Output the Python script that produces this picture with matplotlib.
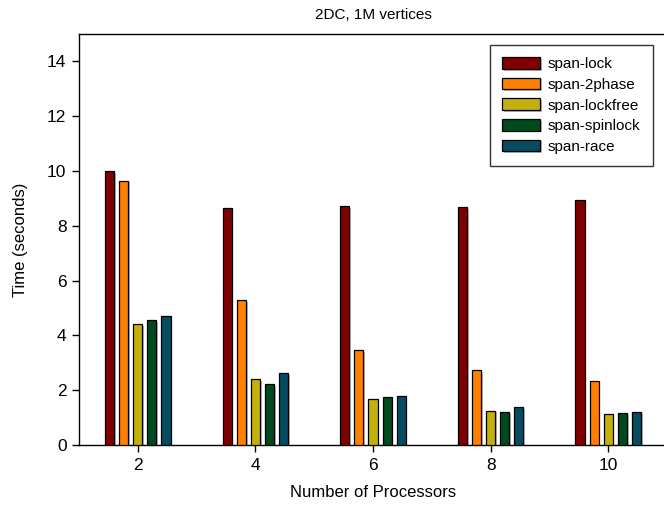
import numpy as np
import matplotlib.pyplot as plt
import matplotlib.patheffects as pe

plt.rcParams['font.family'] = ['Liberation Sans', 'DejaVu Sans']

procs = [2, 4, 6, 8, 10]
series = ['span-lock', 'span-2phase', 'span-lockfree', 'span-spinlock', 'span-race']
span_lock = [10.0, 8.66, 8.71, 8.69, 8.94]
span_2phase = [9.65, 5.29, 3.47, 2.72, 2.35]
span_lockfree = [4.40, 2.40, 1.67, 1.25, 1.14]
span_spinlock = [4.56, 2.22, 1.74, 1.19, 1.16]
span_race = [4.71, 2.62, 1.79, 1.39, 1.19]
colors = ['#7f0000', '#ff8000', '#c4b00c', '#004a1e', '#054c62']

fig = plt.figure(figsize=(6.64, 5.09), dpi=100)
ax = fig.add_axes([79 / 664, 64 / 509, 588 / 664, 411 / 509])

x = np.array(procs, dtype=float)
step = 0.24
width = 0.155
shadow = [pe.SimplePatchShadow(offset=(1.2, -1.2), shadow_rgbFace='#888888', alpha=0.6), pe.Normal()]
for i, (name, vals) in enumerate(zip(series, [span_lock, span_2phase, span_lockfree,
                                              span_spinlock, span_race])):
    bars = ax.bar(x + (i - 2) * step, vals, width, color=colors[i], edgecolor='black',
                  linewidth=0.9, label=name, zorder=3)
    for b in bars:
        b.set_path_effects(shadow)

ax.set_xlim(1, 11)
ax.set_ylim(0, 15)
ax.set_xticks(procs)
ax.set_yticks(range(0, 15, 2))
ax.tick_params(direction='out', length=5, width=1, labelsize=12.5, pad=4)
for s in ['left', 'bottom', 'top']:
    ax.spines[s].set_linewidth(1.0)
ax.spines['right'].set_visible(False)

ax.set_xlabel('Number of Processors', fontsize=12, labelpad=9)
ax.set_ylabel('Time (seconds)', fontsize=12, labelpad=14)
ax.set_title('2DC, 1M vertices', fontsize=11, pad=11)

leg = ax.legend(loc='upper left', bbox_to_anchor=(411 / 588, 1 - 11 / 411), fontsize=11,
                frameon=True, fancybox=False, edgecolor='black', handlelength=2.5,
                handleheight=0.8, labelspacing=0.42, borderpad=0.8, handletextpad=0.5,
                borderaxespad=0)
leg.get_frame().set_linewidth(1.0)

fig.savefig('out.png', dpi=100)
